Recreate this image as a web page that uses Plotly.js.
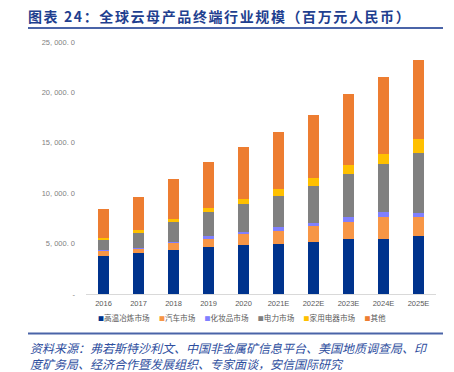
<!DOCTYPE html>
<html>
<head>
<meta charset="utf-8">
<script src="https://cdn.plot.ly/plotly-3.0.1.min.js"></script>
<style>html,body{margin:0;padding:0;background:#fff;}#chart{width:454px;height:372px;}</style>
</head>
<body>
<div id="chart"></div>
<script>
const years = ['2016','2017','2018','2019','2020','2021E','2022E','2023E','2024E','2025E'];
const smelting   = [3800,4020,4410,4640,4840,5010,5170,5410,5500,5730];
const automotive = [430,490,630,860,1090,1290,1560,1780,2120,1860];
const cosmetics  = [100,100,130,260,230,300,290,430,530,430];
const power      = [1040,1450,1950,2360,2780,3130,3700,4290,4730,5980];
const appliances = [220,270,300,420,530,670,770,900,1020,1330];
const others     = [2890,3300,3970,4600,5120,5650,6220,7010,7580,7840];

const seriesNames = ['高温冶炼市场','汽车市场','化妆品市场','电力市场','家用电器市场','其他'];
const seriesColors = ['#00338D','#F79646','#8080FF','#808080','#FFC000','#ED7D31'];
const seriesData = [smelting, automotive, cosmetics, power, appliances, others];

const yTickVals = [0,5000,10000,15000,20000,25000];
const yTickText = ['-','5, 000. 0','10, 000. 0','15, 000. 0','20, 000. 0','25, 000. 0'];

const titleText = '图表 24：全球云母产品终端行业规模（百万元人民币）';
const sourceLines = ['资料来源：弗若斯特沙利文、中国非金属矿信息平台、美国地质调查局、印',
                     '度矿务局、经济合作暨发展组织、专家面谈，安信国际研究'];

const traces = seriesNames.map((n, i) => ({
  type: 'bar', name: n, x: years, y: seriesData[i],
  marker: {color: seriesColors[i], line: {width: 0}},
  hoverinfo: 'x+y+name'
}));

const legendText = seriesNames.map((n, i) =>
  `<span style="color:${seriesColors[i]};font-size:6px">■</span>${n}`).join('　 ');

const W = 454, H = 372;
const mL = 86, mR = 18, mT = 42, mB = 78;
const pw = W - mL - mR, ph = H - mT - mB;
const px = v => (v - mL) / pw;
const py = v => (H - mB - v) / ph;

const sourceAnn = sourceLines.map((s, i) => ({
  text: s, xref: 'paper', yref: 'paper', x: px(28), y: py(347 + i * 16.6),
  xanchor: 'left', yanchor: 'middle', align: 'left', showarrow: false,
  font: {size: 12, color: '#2E4E9E', style: 'italic', family: '"Noto Sans CJK SC", sans-serif'}
}));

const layout = {
  width: W, height: H,
  margin: {l: mL, r: mR, t: mT, b: mB, pad: 0},
  paper_bgcolor: '#fff', plot_bgcolor: '#fff',
  barmode: 'stack', bargap: 0.7,
  showlegend: false,
  font: {family: '"Noto Sans CJK SC", "Noto Sans", sans-serif', color: '#595959'},
  title: {
    text: '<b>' + titleText + '</b>',
    font: {family: '"Noto Sans CJK SC", sans-serif', size: 14, color: '#1F3F8F'},
    x: 28 / W, xanchor: 'left', xref: 'container',
    y: 1 - 17 / H, yanchor: 'middle', yref: 'container'
  },
  xaxis: {
    type: 'category', showgrid: false, zeroline: false,
    showline: true, linecolor: '#D9D9D9', linewidth: 1,
    ticks: '', tickfont: {size: 7.5, color: '#595959', family: '"Liberation Sans", Arial, sans-serif'},
    ticklabelstandoff: 2
  },
  yaxis: {
    range: [0, 25000], showgrid: false, zeroline: false, showline: false,
    tickvals: yTickVals, ticktext: yTickText, ticks: '',
    tickfont: {size: 7.5, color: '#7F7F7F', family: '"Liberation Sans", Arial, sans-serif'},
    ticklabelstandoff: 10
  },
  shapes: [
    {type: 'line', xref: 'paper', yref: 'paper', x0: px(28), x1: px(443), y0: py(28), y1: py(28),
     line: {color: '#4A64A8', width: 2}},
    {type: 'line', xref: 'paper', yref: 'paper', x0: px(28), x1: px(443), y0: py(333.5), y1: py(333.5),
     line: {color: '#4A64A8', width: 2}}
  ],
  annotations: [
    {text: legendText, xref: 'paper', yref: 'paper', x: px(96), y: py(317),
     xanchor: 'left', yanchor: 'middle', showarrow: false,
     font: {size: 7.6, color: '#595959', family: '"Noto Sans CJK SC", sans-serif'}}
  ].concat(sourceAnn)
};

Plotly.newPlot('chart', traces, layout, {displayModeBar: false, staticPlot: true}).then(gd => {
  const t = gd.querySelector('.gtitle');
  if (t) t.style.letterSpacing = '1.6px';
});
</script>
</body>
</html>
